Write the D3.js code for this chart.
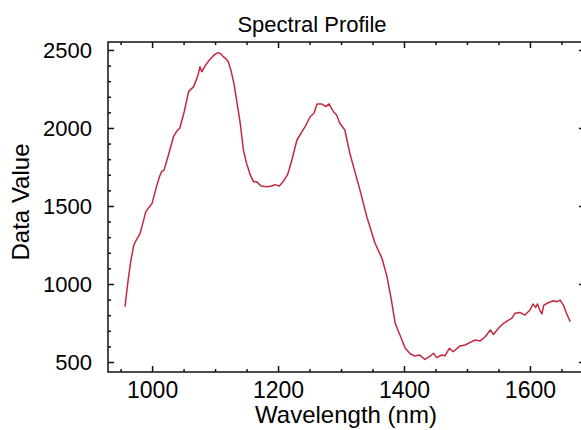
<!DOCTYPE html>
<html>
<head>
<meta charset="utf-8">
<script src="https://cdn.jsdelivr.net/npm/d3@7"></script>
<style>
  html, body { margin: 0; padding: 0; background: #fff; }
  svg { display: block; font-family: "Liberation Sans", Arial, sans-serif; }
</style>
</head>
<body>
<svg id="chart" width="581" height="430"></svg>
<script>
// spectrum
const wavelengths = [
  957, 961, 966, 971, 976, 981, 986, 990, 995, 1000,
  1007, 1012, 1015, 1019, 1026, 1034, 1040, 1044, 1051, 1058,
  1066, 1073, 1076, 1079, 1083, 1087, 1092, 1097, 1101, 1105,
  1109, 1113, 1117, 1121, 1125, 1130, 1135, 1140, 1145, 1150,
  1156, 1161, 1166, 1173, 1182, 1190, 1195, 1202, 1208, 1215,
  1222, 1230, 1238, 1243, 1251, 1257, 1262, 1269, 1276, 1281,
  1288, 1293, 1298, 1306, 1314, 1322, 1330, 1341, 1354, 1365,
  1373, 1380, 1386, 1394, 1402, 1410, 1417, 1425, 1433, 1441,
  1447, 1452, 1460, 1465, 1472, 1478, 1489, 1497, 1505, 1513,
  1521, 1529, 1537, 1542, 1550, 1558, 1566, 1571, 1576, 1584,
  1592, 1600, 1605, 1609, 1612, 1616, 1619, 1622, 1629, 1637,
  1642, 1648, 1653, 1658, 1664
];
const dataValues = [
  854, 994, 1143, 1250, 1290, 1325, 1400, 1464, 1490, 1517,
  1624, 1690, 1720, 1730, 1827, 1944, 1985, 1998, 2104, 2233,
  2265, 2340, 2393, 2360, 2390, 2414, 2440, 2462, 2475, 2483,
  2475, 2457, 2445, 2425, 2372, 2286, 2158, 2030, 1859, 1773,
  1699, 1656, 1656, 1628, 1624, 1628, 1637, 1628, 1656, 1699,
  1795, 1923, 1976, 2008, 2072, 2094, 2154, 2154, 2137, 2154,
  2104, 2083, 2030, 1987, 1838, 1720, 1603, 1431, 1261, 1165,
  1047, 897, 748, 668, 588, 553, 538, 545, 517, 536,
  556, 528, 545, 540, 588, 566, 603, 609, 626, 641,
  635, 662, 705, 677, 716, 748, 769, 780, 812, 818,
  801, 833, 872, 850, 872, 829, 808, 865, 880, 893,
  886, 897, 865, 812, 758
];

const xMajorTicks = [1000, 1200, 1400, 1600];
const xMinorTicks = [950, 1050, 1100, 1150, 1250, 1300, 1350, 1450, 1500, 1550, 1650];
const yMajorTicks = [500, 1000, 1500, 2000, 2500];
const yMinorTicks = [600, 700, 800, 900, 1100, 1200, 1300, 1400, 1600, 1700, 1800, 1900,
  2100, 2200, 2300, 2400];

const plotLeft = 108, plotRight = 586, plotTop = 42, plotBottom = 372;

const svg = d3.select("#chart");

const x = d3.scaleLinear().domain([930, 1689]).range([plotLeft, plotRight]);
const y = d3.scaleLinear().domain([436, 2551]).range([plotBottom, plotTop]);

const points = wavelengths.map((w, i) => ({ w: w, v: dataValues[i] }));

// frame
svg.append("rect")
  .attr("x", plotLeft).attr("y", plotTop)
  .attr("width", plotRight - plotLeft).attr("height", plotBottom - plotTop)
  .attr("fill", "none").attr("stroke", "#111").attr("stroke-width", 1.5);

function styleAxis(g) {
  g.select(".domain").remove();
  g.selectAll(".tick line").attr("stroke", "#111").attr("stroke-width", 1.5);
  g.selectAll(".tick text").attr("fill", "#000");
}

// bottom
svg.append("g")
  .attr("transform", `translate(0,${plotBottom})`)
  .call(d3.axisBottom(x).tickValues(xMajorTicks).tickSize(-6).tickPadding(10).tickFormat(d3.format("d")))
  .call(styleAxis)
  .call(g => g.selectAll(".tick text").style("font-size", "23px"));
svg.append("g")
  .attr("transform", `translate(0,${plotBottom})`)
  .call(d3.axisBottom(x).tickValues(xMinorTicks).tickSize(-3).tickFormat(""))
  .call(styleAxis);

// top
svg.append("g")
  .attr("transform", `translate(0,${plotTop})`)
  .call(d3.axisTop(x).tickValues(xMajorTicks).tickSize(-6).tickFormat(""))
  .call(styleAxis);
svg.append("g")
  .attr("transform", `translate(0,${plotTop})`)
  .call(d3.axisTop(x).tickValues(xMinorTicks).tickSize(-3).tickFormat(""))
  .call(styleAxis);

// left
svg.append("g")
  .attr("transform", `translate(${plotLeft},0)`)
  .call(d3.axisLeft(y).tickValues(yMajorTicks).tickSize(-6).tickPadding(16).tickFormat(d3.format("d")))
  .call(styleAxis)
  .call(g => g.selectAll(".tick text").style("font-size", "22px"));
svg.append("g")
  .attr("transform", `translate(${plotLeft},0)`)
  .call(d3.axisLeft(y).tickValues(yMinorTicks).tickSize(-3).tickFormat(""))
  .call(styleAxis);

// right
svg.append("g")
  .attr("transform", `translate(${plotRight},0)`)
  .call(d3.axisRight(y).tickValues(yMajorTicks).tickSize(-7).tickFormat(""))
  .call(styleAxis);
svg.append("g")
  .attr("transform", `translate(${plotRight},0)`)
  .call(d3.axisRight(y).tickValues(yMinorTicks).tickSize(-3).tickFormat(""))
  .call(styleAxis);

// spectrum line
const line = d3.line().x(d => x(d.w)).y(d => y(d.v));
svg.append("path")
  .datum(points)
  .attr("d", line)
  .attr("fill", "none")
  .attr("stroke", "#c3283e")
  .attr("stroke-width", 1.5)
  .attr("stroke-linejoin", "round");

// title and axis labels
svg.append("text")
  .attr("x", 312).attr("y", 32)
  .attr("text-anchor", "middle")
  .style("font-size", "22px")
  .text("Spectral Profile");

svg.append("text")
  .attr("x", 346).attr("y", 423)
  .attr("text-anchor", "middle")
  .style("font-size", "24px")
  .text("Wavelength (nm)");

svg.append("text")
  .attr("transform", "translate(29,202) rotate(-90)")
  .attr("text-anchor", "middle")
  .style("font-size", "24px")
  .text("Data Value");
</script>
</body>
</html>
